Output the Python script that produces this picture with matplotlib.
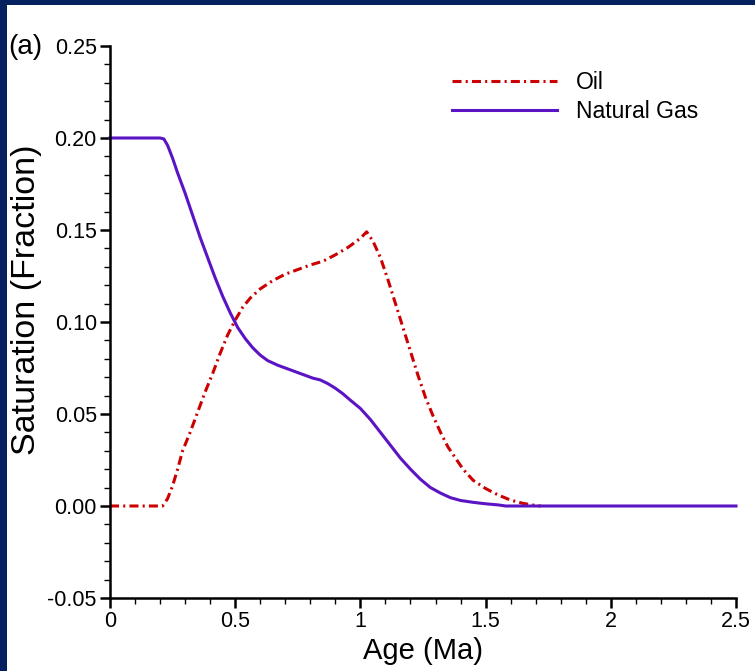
import matplotlib
matplotlib.use("Agg")
import matplotlib.pyplot as plt
from matplotlib.patches import Rectangle
from matplotlib.ticker import MultipleLocator

# values
gas_age = [0, 0.2, 0.215, 0.23, 0.25, 0.27, 0.30, 0.33, 0.36, 0.39, 0.42, 0.45,
           0.48, 0.51, 0.54, 0.57, 0.60, 0.63, 0.67, 0.72, 0.77, 0.81, 0.84,
           0.87, 0.90, 0.93, 0.96, 1.0, 1.04, 1.08, 1.12, 1.16, 1.20, 1.24,
           1.28, 1.32, 1.36, 1.40, 1.45, 1.50, 1.55, 1.58, 2.5]
gas_sat = [0.2, 0.2, 0.1995, 0.196, 0.189, 0.181, 0.170, 0.158, 0.146, 0.135,
           0.124, 0.114, 0.105, 0.097, 0.091, 0.086, 0.082, 0.079, 0.0765,
           0.074, 0.0715, 0.0695, 0.0685, 0.0665, 0.064, 0.061, 0.0575, 0.053,
           0.047, 0.040, 0.033, 0.026, 0.020, 0.0145, 0.010, 0.007, 0.0045,
           0.003, 0.002, 0.0012, 0.0006, 0.0, 0.0]

oil_age = [0, 0.21, 0.23, 0.25, 0.27, 0.29, 0.32, 0.35, 0.38, 0.41, 0.44, 0.47,
           0.50, 0.53, 0.56, 0.60, 0.65, 0.70, 0.75, 0.80, 0.85, 0.90, 0.95,
           1.00, 1.025, 1.05, 1.08, 1.11, 1.14, 1.17, 1.20, 1.23, 1.26, 1.29,
           1.32, 1.35, 1.38, 1.41, 1.45, 1.50, 1.55, 1.60, 1.65, 1.70, 1.72]
oil_sat = [0.0, 0.0, 0.004, 0.011, 0.020, 0.030, 0.040, 0.051, 0.062, 0.072,
           0.083, 0.093, 0.101, 0.108, 0.113, 0.118, 0.1225, 0.126, 0.1285,
           0.131, 0.133, 0.1365, 0.1405, 0.1455, 0.149, 0.144, 0.135, 0.123,
           0.110, 0.097, 0.084, 0.071, 0.059, 0.049, 0.040, 0.032, 0.026,
           0.020, 0.014, 0.0095, 0.006, 0.0032, 0.0014, 0.0003, 0.0]

x_ticks = [0, 0.5, 1, 1.5, 2, 2.5]
x_labels = ["0", "0.5", "1", "1.5", "2", "2.5"]
y_ticks = [-0.05, 0.0, 0.05, 0.10, 0.15, 0.20, 0.25]
y_labels = ["-0.05", "0.00", "0.05", "0.10", "0.15", "0.20", "0.25"]

plt.rcParams["font.family"] = ["Liberation Sans", "DejaVu Sans"]
plt.rcParams["lines.scale_dashes"] = False

W, H = 755, 671
fig = plt.figure(figsize=(W / 100, H / 100), dpi=100, facecolor="#06215f")
# white panel inside the navy frame (navy only on top and left)
fig.patches.append(Rectangle((7 / W, 0), 1, (H - 5) / H, transform=fig.transFigure,
                             facecolor="white", edgecolor="none", zorder=-1))

ax = fig.add_axes([110 / W, 1 - 598 / H, 626 / W, 552 / H])
ax.set_facecolor("none")

ax.plot(oil_age, oil_sat, color="#cc0000", lw=2.2, dashes=(6.5, 3, 1.5, 3),
        label="Oil", clip_on=False)
ax.plot(gas_age, gas_sat, color="#5b14c4", lw=2.2, label="Natural Gas",
        clip_on=False)

ax.set_xlim(0, 2.5)
ax.set_ylim(-0.05, 0.25)
ax.set_xticks(x_ticks)
ax.set_xticklabels(x_labels)
ax.set_yticks(y_ticks)
ax.set_yticklabels(y_labels)
ax.xaxis.set_minor_locator(MultipleLocator(0.1))
ax.yaxis.set_minor_locator(MultipleLocator(0.01))

for side in ["top", "right"]:
    ax.spines[side].set_visible(False)
for side in ["left", "bottom"]:
    ax.spines[side].set_linewidth(1.8)

ax.tick_params(which="major", direction="out", length=7.5, width=1.8,
               labelsize=15.5, pad=2)
ax.tick_params(which="minor", direction="out", length=4, width=1.0)

leg = ax.legend(loc="upper left", bbox_to_anchor=(452 / W, 1 - 71 / H),
                bbox_transform=fig.transFigure, frameon=False, fontsize=16.5,
                handlelength=4.6, handletextpad=0.8, labelspacing=0.25,
                borderpad=0, borderaxespad=0)

fig.text(27 / W, 1 - 300 / H, "Saturation (Fraction)", rotation=90,
         ha="center", va="center", fontsize=24.5)
fig.text(423 / W, 1 - 651 / H, "Age (Ma)", ha="center", va="center", fontsize=21)
fig.text(8 / W, 1 - 47 / H, "(a)", ha="left", va="center", fontsize=20)

fig.savefig("out.png", dpi=100, facecolor=fig.get_facecolor())
